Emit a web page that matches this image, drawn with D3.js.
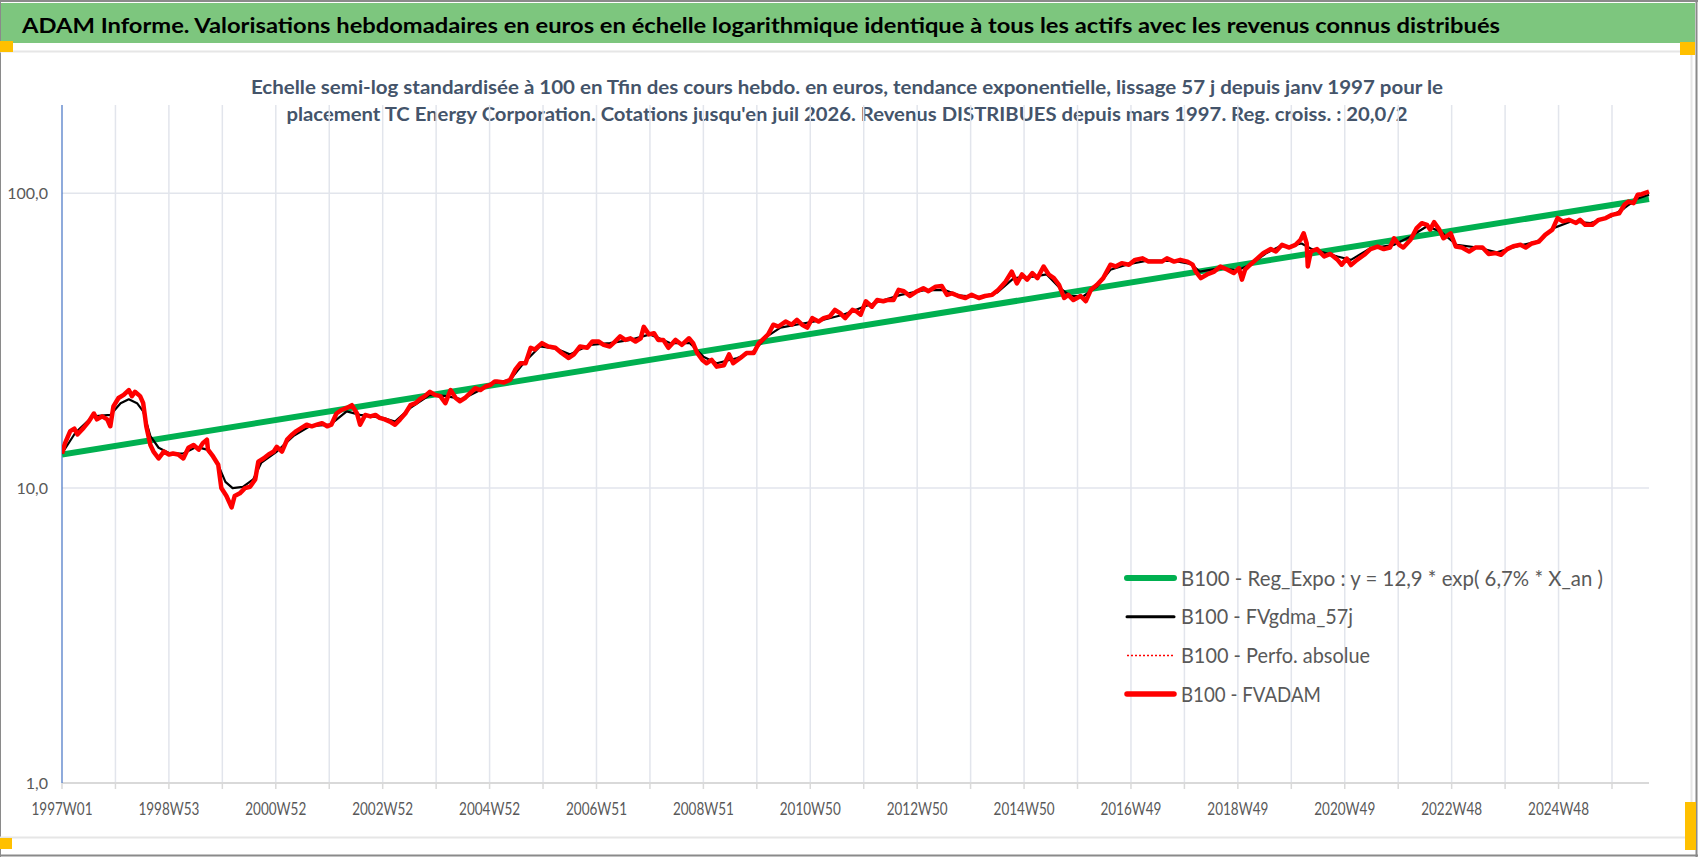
<!DOCTYPE html>
<html>
<head>
<meta charset="utf-8">
<script src="https://cdn.jsdelivr.net/npm/d3@7"></script>
<style>
  html, body { margin: 0; padding: 0; background: #fff; }
  svg { display: block; font-family: Lato, "Open Sans", sans-serif; }
</style>
</head>
<body>
<svg id="chart" width="1698" height="857"></svg>
<script>
// ---- data (week index since 1997W01, value base 100) ----
const weekLabels = ['1997W01', '1998W53', '2000W52', '2002W52', '2004W52', '2006W51', '2008W51',
  '2010W50', '2012W50', '2014W50', '2016W49', '2018W49', '2020W49', '2022W48', '2024W48']
const yTicks = [1, 10, 100]
const lastWeek = 1544

const regExpo = [[0, 13.0], [1544, 95.5]]

const fvgdma57 = [[0,13.1],[13,15.4],[30,17.5],[47,17.7],[57,19.4],[65,20.0],[73,19.4],[79,18.2],[86,15.0],
  [94,13.7],[105,13.1],[118,13.1],[131,13.8],[141,13.5],[151,12.2],[159,10.5],[166,10.0],[176,10.1],[186,10.7],
  [194,12.2],[209,13.3],[225,15.0],[241,16.2],[261,16.4],[277,18.2],[290,17.7],[312,17.3],[324,16.8],[339,18.7],
  [358,20.7],[374,20.5],[389,20.0],[407,21.5],[417,22.6],[436,23.3],[449,26.5],[465,30.2],[481,29.7],[494,28.4],
  [514,30.6],[533,31.0],[553,31.8],[572,33.2],[592,31.0],[611,31.0],[624,27.9],[637,26.5],[657,27.6],[673,29.1],
  [686,32.7],[699,35.0],[722,36.2],[741,37.2],[760,38.7],[780,41.2],[796,43.0],[816,45.2],[838,46.8],[858,47.0],
  [874,44.9],[894,44.4],[910,46.1],[926,51.5],[945,52.1],[958,53.0],[971,47.6],[981,44.8],[994,44.8],[1007,48.2],
  [1020,55.0],[1039,57.6],[1056,59.0],[1082,58.9],[1098,57.6],[1107,54.2],[1127,55.7],[1143,54.7],[1156,57.2],
  [1172,62.7],[1185,66.0],[1195,66.2],[1206,67.5],[1216,64.6],[1241,61.0],[1254,59.4],[1273,65.0],[1296,66.8],
  [1312,71.3],[1328,77.2],[1341,74.2],[1357,66.8],[1377,65.4],[1396,63.0],[1416,66.1],[1435,68.5],[1451,76.1],
  [1468,80.2],[1487,79.1],[1507,83.3],[1520,88.9],[1532,95.6],[1544,98.7]]

const fvadam = [[0,13.1],[3,14.2],[8,15.6],[12,15.9],[15,15.2],[21,16.0],[26,16.8],[31,17.9],[34,17.1],[39,17.5],
  [44,17.1],[47,16.2],[50,18.9],[55,20.2],[60,20.7],[65,21.5],[68,20.5],[71,21.2],[76,20.5],[79,19.4],[82,16.2],
  [86,14.0],[89,13.3],[94,12.6],[99,13.3],[104,13.0],[108,13.1],[113,13.0],[118,12.6],[123,13.7],[128,14.0],
  [133,13.5],[137,14.2],[141,14.6],[142,13.5],[147,12.8],[152,12.0],[155,10.0],[160,9.4],[165,8.6],[168,9.4],
  [173,9.6],[178,10.0],[183,10.1],[188,10.7],[191,12.3],[196,12.6],[201,13.0],[206,13.3],[209,13.8],[214,13.3],
  [219,14.6],[224,15.2],[228,15.6],[233,16.0],[238,16.4],[243,16.2],[248,16.4],[253,16.6],[258,16.2],[262,16.4],
  [267,17.9],[272,18.4],[277,18.7],[282,19.1],[287,17.9],[290,16.4],[295,17.7],[300,17.5],[305,17.7],[309,17.3],
  [314,17.1],[319,16.8],[324,16.4],[329,17.1],[334,17.9],[339,19.1],[344,19.4],[348,20.0],[353,20.5],[358,21.2],
  [363,20.7],[368,20.5],[373,19.4],[378,21.5],[383,20.2],[387,19.7],[392,20.2],[397,21.0],[402,21.8],[407,21.5],
  [412,22.1],[417,22.4],[421,23.0],[423,23.0],[430,22.8],[436,23.3],[441,25.2],[446,26.5],[451,26.5],[456,29.9],
  [460,29.5],[467,31.0],[473,30.2],[480,29.9],[486,28.7],[493,27.6],[498,28.4],[504,30.2],[511,29.9],[516,31.4],
  [522,31.4],[527,30.6],[533,30.2],[538,31.4],[543,32.7],[548,31.8],[553,32.2],[558,31.4],[563,32.2],[566,35.2],
  [571,33.2],[576,33.5],[580,31.8],[585,31.8],[590,29.9],[597,31.8],[603,30.6],[610,32.2],[614,31.0],[618,28.7],
  [623,27.2],[627,26.5],[632,27.2],[637,25.8],[644,26.1],[649,28.4],[653,26.5],[660,27.6],[666,28.7],[673,28.7],
  [678,31.0],[683,32.2],[687,33.2],[692,35.8],[697,35.3],[704,36.7],[710,35.8],[715,37.2],[720,35.8],[725,35.0],
  [730,37.7],[736,36.7],[741,37.7],[747,38.2],[752,40.2],[757,39.2],[762,37.7],[769,40.2],[773,39.7],[777,38.7],
  [782,43.0],[788,41.2],[793,43.4],[799,43.0],[803,43.4],[809,43.4],[814,47.0],[819,46.5],[825,44.8],[832,46.5],
  [838,47.6],[843,46.5],[850,48.2],[856,48.4],[861,45.2],[866,45.7],[872,44.8],[879,44.1],[885,45.2],[892,44.1],
  [898,44.8],[905,45.2],[911,47.0],[918,50.1],[921,52.1],[924,54.2],[929,49.4],[934,53.0],[939,50.9],[944,53.6],
  [949,51.5],[955,56.4],[960,53.0],[965,51.5],[970,48.9],[975,44.1],[979,45.2],[984,43.4],[991,44.8],[996,43.0],
  [1001,47.0],[1007,48.9],[1013,51.5],[1020,57.2],[1025,56.4],[1031,57.9],[1038,57.2],[1044,59.4],[1051,60.1],
  [1057,58.6],[1064,58.6],[1070,58.6],[1075,60.1],[1082,58.6],[1088,59.4],[1095,58.6],[1100,57.2],[1103,54.2],
  [1108,51.5],[1114,53.0],[1121,54.2],[1127,56.4],[1134,55.0],[1140,53.6],[1145,55.7],[1148,50.9],[1151,55.0],
  [1156,57.2],[1163,60.1],[1169,62.7],[1176,64.6],[1181,63.4],[1187,66.8],[1194,65.4],[1200,66.8],[1205,69.5],
  [1208,73.1],[1211,67.5],[1212,56.4],[1215,63.4],[1221,64.6],[1228,61.0],[1234,62.2],[1241,59.4],[1245,57.2],
  [1250,60.0],[1254,57.0],[1260,59.4],[1267,61.8],[1273,64.6],[1280,65.9],[1286,64.6],[1292,65.4],[1296,70.3],
  [1301,66.8],[1305,65.4],[1312,69.5],[1318,76.1],[1323,79.1],[1328,78.1],[1331,75.2],[1335,79.7],[1340,75.2],
  [1344,70.3],[1351,73.1],[1356,65.9],[1362,65.4],[1369,63.4],[1375,65.4],[1382,65.4],[1388,62.2],[1395,62.6],
  [1400,61.8],[1406,64.6],[1412,66.1],[1419,66.8],[1424,65.4],[1430,67.5],[1437,68.5],[1443,72.2],[1450,75.2],
  [1455,82.3],[1460,80.2],[1466,81.2],[1473,79.2],[1477,81.2],[1482,78.1],[1489,78.1],[1495,81.2],[1502,82.3],
  [1508,84.4],[1515,85.5],[1520,91.3],[1524,93.6],[1529,92.5],[1533,98.7],[1537,99.2],[1544,101.3]]

// the dotted series sits exactly under FVADAM in the picture
const perfoAbsolue = fvadam

const legendLabels = ['B100 - Reg_Expo : y = 12,9 * exp( 6,7% *  X_an )', 'B100 - FVgdma_57j',
  'B100 - Perfo. absolue', 'B100 - FVADAM']

const titleText = 'ADAM Informe. Valorisations hebdomadaires en euros en échelle logarithmique identique à tous les actifs avec les revenus connus distribués'
const subtitleLines = [
  'Echelle semi-log standardisée à 100 en Tfin des cours hebdo. en euros, tendance exponentielle, lissage 57 j depuis janv 1997 pour le',
  'placement TC Energy Corporation. Cotations jusqu\'en juil 2026. Revenus DISTRIBUES depuis mars 1997. Reg. croiss. : 20,0/2'
]

// ---- styles ----
const seriesStyles = [
  { color: '#00B050', width: 6, dash: null },
  { color: '#000000', width: 2.2, dash: null },
  { color: '#FF0000', width: 1.3, dash: '2,2' },
  { color: '#FF0000', width: 4.5, dash: null }
]
const legendSampleWidths = [6, 3, 1.5, 5.5]
const legendTextWidths = [422, 172, 189, 140]

const svg = d3.select('#chart')
const plot = { left: 62, right: 1649, top: 105, bottom: 783 }

const x = d3.scaleLinear().domain([0, lastWeek]).range([plot.left, plot.right])
const y = d3.scaleLog().domain([1, 199]).range([plot.bottom, plot.top])

const fit = (sel, w) => sel.attr('textLength', w).attr('lengthAdjust', 'spacingAndGlyphs')

// Frame / header decoration
svg.append('rect').attr('x', 0).attr('y', 0).attr('width', 1698).attr('height', 857).attr('fill', '#fff')
svg.append('rect').attr('x', 1).attr('y', 3).attr('width', 1694).attr('height', 40).attr('fill', '#7DC67E')
svg.append('line').attr('x1', 0).attr('x2', 1698).attr('y1', 1).attr('y2', 1).attr('stroke', '#8a8a8a').attr('stroke-width', 2)
svg.append('line').attr('x1', 0.5).attr('x2', 0.5).attr('y1', 0).attr('y2', 857).attr('stroke', '#8a8a8a')
svg.append('line').attr('x1', 0).attr('x2', 1698).attr('y1', 855.5).attr('y2', 855.5).attr('stroke', '#8a8a8a').attr('stroke-width', 2)
svg.append('line').attr('x1', 1696.5).attr('x2', 1696.5).attr('y1', 0).attr('y2', 857).attr('stroke', '#8a8a8a').attr('stroke-width', 2)
svg.append('line').attr('x1', 0).attr('x2', 1692).attr('y1', 51.5).attr('y2', 51.5).attr('stroke', '#E6E6E6').attr('stroke-width', 2)
svg.append('line').attr('x1', 0).attr('x2', 1692).attr('y1', 837.5).attr('y2', 837.5).attr('stroke', '#E6E6E6').attr('stroke-width', 2)
svg.append('line').attr('x1', 1691.5).attr('x2', 1691.5).attr('y1', 52).attr('y2', 837).attr('stroke', '#E6E6E6').attr('stroke-width', 2)
const handles = [[0, 41, 13, 11], [1680, 42, 15, 13], [0, 838, 12, 11], [1685, 802, 11, 48]]
svg.selectAll('rect.handle').data(handles).join('rect').attr('class', 'handle')
  .attr('x', d => d[0]).attr('y', d => d[1]).attr('width', d => d[2]).attr('height', d => d[3])
  .attr('fill', '#FFC000')

// Titles
svg.append('text').attr('x', 22).attr('y', 33)
  .attr('font-size', 21.5).attr('font-weight', 'bold').attr('fill', '#000')
  .text(titleText).call(fit, 1478)

svg.selectAll('text.subtitle').data(subtitleLines).join('text').attr('class', 'subtitle')
  .attr('x', 847).attr('y', (d, i) => 94 + i * 27)
  .attr('text-anchor', 'middle').attr('font-size', 19.5).attr('font-weight', 'bold').attr('fill', '#44546A')
  .text(d => d)
  .each(function (d, i) { d3.select(this).call(fit, [1192, 1121][i]) })

// Gridlines
const grid = svg.append('g')
grid.selectAll('line.vgrid').data(d3.range(52, lastWeek, 52)).join('line').attr('class', 'vgrid')
  .attr('x1', d => x(d)).attr('x2', d => x(d)).attr('y1', plot.top).attr('y2', plot.bottom)
  .attr('stroke', '#E2E5EC').attr('stroke-width', 1.5)
grid.selectAll('line.hgrid').data(yTicks.slice(1)).join('line').attr('class', 'hgrid')
  .attr('x1', plot.left).attr('x2', plot.right).attr('y1', d => y(d)).attr('y2', d => y(d))
  .attr('stroke', '#E2E5EC').attr('stroke-width', 1.5)

// X axis
svg.append('line').attr('x1', plot.left).attr('x2', plot.right).attr('y1', plot.bottom).attr('y2', plot.bottom)
  .attr('stroke', '#D9D9D9').attr('stroke-width', 2)
svg.selectAll('line.xtick').data(d3.range(0, lastWeek, 52)).join('line').attr('class', 'xtick')
  .attr('x1', d => x(d)).attr('x2', d => x(d)).attr('y1', plot.bottom).attr('y2', plot.bottom + 6)
  .attr('stroke', '#D9D9D9').attr('stroke-width', 1.5)
svg.selectAll('text.xlabel').data(weekLabels).join('text').attr('class', 'xlabel')
  .attr('x', (d, i) => x(i * 104)).attr('y', 814.5)
  .attr('text-anchor', 'middle').attr('font-size', 16.5).attr('fill', '#595959')
  .text(d => d).call(fit, 61)

// Y axis
svg.append('line').attr('x1', plot.left).attr('x2', plot.left).attr('y1', plot.top).attr('y2', plot.bottom)
  .attr('stroke', '#4472C4').attr('stroke-width', 1.2)
svg.selectAll('text.ylabel').data(yTicks).join('text').attr('class', 'ylabel')
  .attr('x', 48).attr('y', d => y(d) + 6)
  .attr('text-anchor', 'end').attr('font-size', 16).attr('fill', '#595959')
  .text(d => d3.format('.1f')(d).replace('.', ','))

// Series
svg.append('clipPath').attr('id', 'plotclip').append('rect')
  .attr('x', plot.left).attr('y', plot.top).attr('width', plot.right - plot.left + 4).attr('height', plot.bottom - plot.top)
const line = d3.line().x(d => x(d[0])).y(d => y(d[1]))
const seriesData = [regExpo, fvgdma57, perfoAbsolue, fvadam]
svg.append('g').attr('clip-path', 'url(#plotclip)')
  .selectAll('path').data(seriesData).join('path')
  .attr('d', line)
  .attr('fill', 'none')
  .attr('stroke', (d, i) => seriesStyles[i].color)
  .attr('stroke-width', (d, i) => seriesStyles[i].width)
  .attr('stroke-dasharray', (d, i) => seriesStyles[i].dash)
  .attr('stroke-linejoin', 'round')

// Legend
const legend = svg.append('g').attr('transform', 'translate(1127, 578)')
const items = legend.selectAll('g').data(legendLabels).join('g')
  .attr('transform', (d, i) => `translate(0, ${i * 38.7})`)
items.append('line').attr('x1', 0).attr('x2', 47).attr('y1', 0).attr('y2', 0)
  .attr('stroke', (d, i) => seriesStyles[i].color)
  .attr('stroke-width', (d, i) => legendSampleWidths[i])
  .attr('stroke-dasharray', (d, i) => seriesStyles[i].dash)
  .attr('stroke-linecap', (d, i) => seriesStyles[i].dash ? 'butt' : 'round')
items.append('text').attr('x', 54).attr('y', 7.5)
  .attr('font-size', 21).attr('fill', '#595959')
  .text(d => d)
  .each(function (d, i) { d3.select(this).call(fit, legendTextWidths[i]) })
</script>
</body>
</html>
